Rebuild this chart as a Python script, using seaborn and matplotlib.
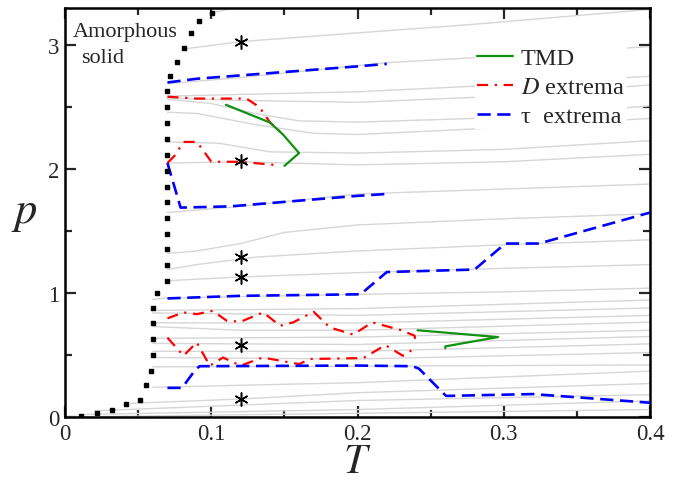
import matplotlib
matplotlib.use('Agg')
import matplotlib.pyplot as plt
from matplotlib.lines import Line2D
from matplotlib.ticker import MultipleLocator
import seaborn as sns

# gray isochores, one T list and one p list per curve
iso_T = [
    [0.100, 0.115, 0.14],
    [0.081, 0.12, 0.20, 0.28, 0.40],
    [0.07, 0.12, 0.22, 0.28, 0.40],
    [0.07, 0.20, 0.28, 0.40],
    [0.07, 0.12, 0.20, 0.28, 0.40],
    [0.07, 0.10, 0.13, 0.16, 0.20, 0.28, 0.40],
    [0.07, 0.09, 0.13, 0.17, 0.20, 0.28, 0.40],
    [0.07, 0.105, 0.14, 0.20, 0.30, 0.40],
    [0.07, 0.12, 0.20, 0.30, 0.40],
    [0.07, 0.12, 0.20, 0.30, 0.40],
    [0.07, 0.09, 0.12, 0.15, 0.20, 0.30, 0.40],
    [0.07, 0.09, 0.13, 0.20, 0.30, 0.40],
    [0.07, 0.12, 0.20, 0.30, 0.40],
    [0.06, 0.07, 0.20, 0.30, 0.40],
    [0.06, 0.20, 0.40],
    [0.06, 0.20, 0.40],
    [0.06, 0.20, 0.40],
    [0.06, 0.12, 0.20, 0.40],
    [0.06, 0.20, 0.40],
    [0.06, 0.20, 0.40],
    [0.06, 0.20, 0.40],
    [0.06, 0.20, 0.40],
    [0.06, 0.20, 0.40],
    [0.06, 0.20, 0.40],
    [0.045, 0.12, 0.20, 0.40],
    [0.02, 0.20, 0.40],
    [0.01, 0.20, 0.40],
    [0.0, 0.40],
]
iso_p = [
    [3.26, 3.30, 3.34],
    [2.97, 3.03, 3.10, 3.17, 3.29],
    [2.69, 2.74, 2.86, 2.90, 2.99],
    [2.59, 2.625, 2.67, 2.75],
    [2.575, 2.555, 2.54, 2.58, 2.68],
    [2.565, 2.53, 2.45, 2.39, 2.38, 2.41, 2.51],
    [2.46, 2.45, 2.36, 2.29, 2.28, 2.325, 2.41],
    [2.22, 2.21, 2.14, 2.13, 2.16, 2.23],
    [2.05, 2.06, 2.035, 2.06, 2.12],
    [1.65, 1.70, 1.80, 1.84, 1.88],
    [1.32, 1.34, 1.40, 1.49, 1.55, 1.60, 1.64],
    [1.19, 1.23, 1.29, 1.34, 1.39, 1.43],
    [1.10, 1.13, 1.165, 1.20, 1.23],
    [0.95, 0.96, 0.99, 1.01, 1.04],
    [0.86, 0.875, 0.944],
    [0.84, 0.82, 0.88],
    [0.76, 0.758, 0.82],
    [0.73, 0.70, 0.70, 0.766],
    [0.635, 0.645, 0.70],
    [0.594, 0.585, 0.65],
    [0.53, 0.53, 0.59],
    [0.48, 0.468, 0.52],
    [0.405, 0.41, 0.42],
    [0.24, 0.277, 0.37],
    [0.11, 0.145, 0.196, 0.27],
    [0.05, 0.133, 0.18],
    [0.02, 0.06, 0.13],
    [0.0, 0.06],
]

# amorphous solid boundary
boundary_T = [0.011, 0.022, 0.032, 0.042, 0.051, 0.055, 0.059, 0.060, 0.060, 0.060, 0.060,
              0.063, 0.0695, 0.0697, 0.0697, 0.0697, 0.0697, 0.0697, 0.0697, 0.0697, 0.0697,
              0.0697, 0.0697, 0.0697, 0.0697, 0.072, 0.0764, 0.0813, 0.0859, 0.0916, 0.1003]
boundary_p = [0.008, 0.03, 0.054, 0.107, 0.14, 0.256, 0.373, 0.50, 0.63, 0.756, 0.88,
              0.998, 1.10, 1.226, 1.355, 1.48, 1.607, 1.734, 1.857, 1.986, 2.115,
              2.24, 2.37, 2.50, 2.63, 2.75, 2.865, 2.98, 3.10, 3.20, 3.258]

# TMD
tmd_hi_T = [0.110, 0.140, 0.149, 0.160, 0.150]
tmd_hi_p = [2.52, 2.377, 2.28, 2.13, 2.027]
tmd_lo_T = [0.241, 0.296, 0.260, 0.260]
tmd_lo_p = [0.70, 0.645, 0.57, 0.555]

# D extrema
dext1_T = [0.07, 0.09, 0.124, 0.133, 0.140, 0.149]
dext1_p = [2.585, 2.57, 2.57, 2.50, 2.38, 2.28]
dext2_T = [0.07, 0.075, 0.081, 0.09, 0.092, 0.097, 0.10, 0.12, 0.147]
dext2_p = [2.05, 2.11, 2.22, 2.22, 2.19, 2.11, 2.06, 2.06, 2.03]
dext3_T = [0.070, 0.081, 0.090, 0.101, 0.1105, 0.12, 0.1355, 0.147, 0.156, 0.170,
           0.181, 0.197, 0.21, 0.23, 0.239, 0.2395]
dext3_p = [0.796, 0.844, 0.83, 0.857, 0.777, 0.769, 0.844, 0.736, 0.764, 0.849,
           0.723, 0.665, 0.764, 0.70, 0.656, 0.62]
dext4_T = [0.07, 0.081, 0.09, 0.099, 0.108, 0.12, 0.135, 0.16, 0.1675, 0.204, 0.219, 0.231, 0.239]
dext4_p = [0.64, 0.494, 0.602, 0.414, 0.48, 0.414, 0.48, 0.427, 0.468, 0.476, 0.58, 0.494, 0.554]

# tau extrema
tau1_T = [0.07, 0.09, 0.20, 0.22]
tau1_p = [2.70, 2.73, 2.83, 2.85]
tau2_T = [0.07, 0.079, 0.113, 0.20, 0.22]
tau2_p = [2.05, 1.69, 1.70, 1.785, 1.80]
tau3_T = [0.07, 0.12, 0.20, 0.202, 0.220, 0.280, 0.301, 0.324, 0.40]
tau3_p = [0.957, 0.978, 0.99, 0.99, 1.17, 1.19, 1.40, 1.40, 1.65]
tau4_T = [0.07, 0.08, 0.089, 0.092, 0.20, 0.2375, 0.242, 0.2605, 0.32, 0.40]
tau4_p = [0.235, 0.235, 0.38, 0.41, 0.415, 0.41, 0.39, 0.17, 0.185, 0.115]

# state points marked with asterisks
star_T = [0.12, 0.12, 0.12, 0.12, 0.12, 0.12]
star_p = [3.03, 2.065, 1.295, 1.13, 0.583, 0.145]

x_ticks = [0, 0.1, 0.2, 0.3, 0.4]
x_ticklabels = ['0', '0.1', '0.2', '0.3', '0.4']
y_ticks = [0, 1, 2, 3]
y_ticklabels = ['0', '1', '2', '3']

sns.set_theme(style='ticks')
plt.rcParams['font.family'] = ['Liberation Serif', 'DejaVu Serif']
plt.rcParams['mathtext.fontset'] = 'stix'

fig = plt.figure(figsize=(6.85, 4.81), dpi=100)
ax = fig.add_axes([0.095, 0.131, 0.854, 0.850])

gray = '#d6d6d6'
for T, p in zip(iso_T, iso_p):
    sns.lineplot(x=T, y=p, sort=False, estimator=None, color=gray, lw=1.0, ax=ax, zorder=1)

red_ls = (0, (5, 3, 1, 3))
blue_ls = (0, (5, 2.5))
for T, p in [(dext1_T, dext1_p), (dext2_T, dext2_p), (dext3_T, dext3_p), (dext4_T, dext4_p)]:
    sns.lineplot(x=T, y=p, sort=False, estimator=None, color='#ff0000', lw=1.6,
                 linestyle=red_ls, ax=ax, zorder=3)
for T, p in [(tmd_hi_T, tmd_hi_p), (tmd_lo_T, tmd_lo_p)]:
    sns.lineplot(x=T, y=p, sort=False, estimator=None, color='#119111', lw=1.6, ax=ax, zorder=3)
for T, p in [(tau1_T, tau1_p), (tau2_T, tau2_p), (tau3_T, tau3_p), (tau4_T, tau4_p)]:
    sns.lineplot(x=T, y=p, sort=False, estimator=None, color='#0000ff', lw=1.9,
                 linestyle=blue_ls, ax=ax, zorder=3)

ax.plot(boundary_T, boundary_p, ls='none', marker='s', ms=3.5, color='black', zorder=4)
ax.plot(star_T, star_p, ls='none', marker=(6, 2, 0), ms=10, mew=1.1, color='black', zorder=4)

ax.text(0.0055, 3.073, 'Amorphous', fontsize=16, va='baseline', ha='left')
ax.text(0.011, 2.863, 'solid', fontsize=16, va='baseline', ha='left')

ax.set_xlim(0, 0.4)
ax.set_ylim(0, 3.3)
ax.set_xticks(x_ticks, labels=x_ticklabels)
ax.set_yticks(y_ticks, labels=y_ticklabels)
ax.xaxis.set_minor_locator(MultipleLocator(0.05))
ax.yaxis.set_minor_locator(MultipleLocator(0.5))
ax.tick_params(which='both', direction='in', top=True, right=True, labelsize=16.5, width=1.6, pad=4)
ax.tick_params(which='major', length=8)
ax.tick_params(which='minor', length=5)
for s in ax.spines.values():
    s.set_linewidth(1.8)
    s.set_color('black')

ax.set_xlabel('$T$', fontsize=30, labelpad=-1)
ax.set_ylabel('$p$', fontsize=32, rotation=0, va='center')
ax.yaxis.set_label_coords(-0.07, 0.50)

handles = [
    Line2D([], [], color='#119111', lw=1.6),
    Line2D([], [], color='#ff0000', lw=1.6, linestyle=red_ls),
    Line2D([], [], color='#0000ff', lw=1.9, linestyle=blue_ls),
]
leg = ax.legend(handles, ['TMD', '$D$ extrema', 'τ  extrema'], loc='upper left',
                bbox_to_anchor=(0.70, 0.91), fontsize=17.5, frameon=True, framealpha=1,
                edgecolor='none', facecolor='white', fancybox=False, borderpad=0.1,
                borderaxespad=0, handlelength=1.5, handletextpad=0.3, labelspacing=0.28)
leg.set_zorder(10)

fig.savefig('out.png', dpi=100)
